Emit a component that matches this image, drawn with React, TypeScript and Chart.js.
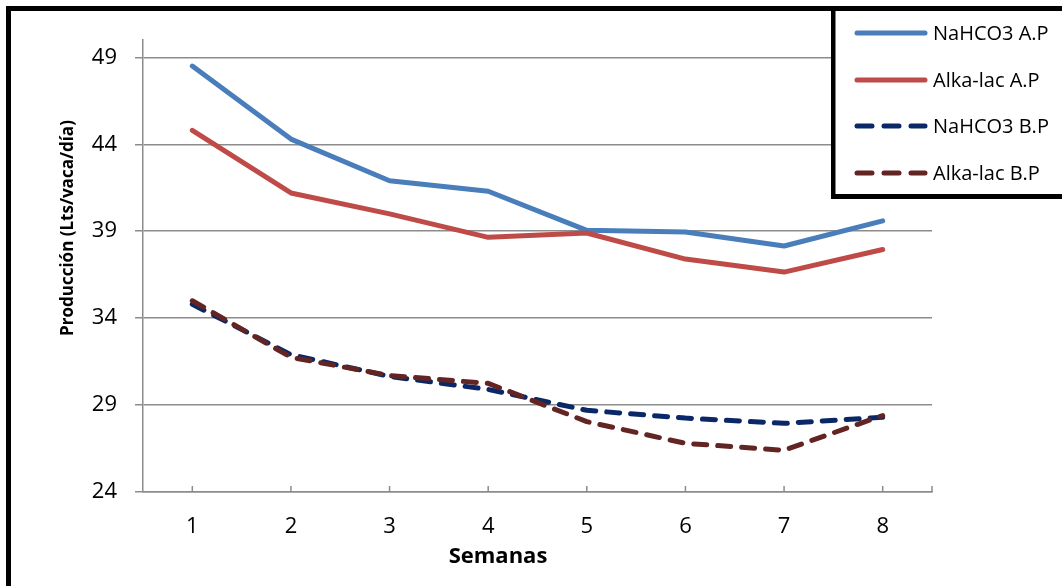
import React, { useEffect, useRef } from "react";
import { Chart, registerables } from "chart.js";

Chart.register(...registerables);

const weeks = ["1", "2", "3", "4", "5", "6", "7", "8"];
const nahco3AP = [48.5, 44.3, 41.9, 41.3, 39.05, 38.95, 38.15, 39.6];
const alkaAP = [44.8, 41.2, 40.0, 38.65, 38.9, 37.4, 36.65, 37.95];
const nahco3BP = [34.8, 31.9, 30.65, 29.9, 28.7, 28.25, 27.95, 28.3];
const alkaBP = [35.0, 31.75, 30.7, 30.25, 28.05, 26.8, 26.4, 28.4];
const yMin = 24;
const yMax = 50;
const yTickValues = [24, 29, 34, 39, 44, 49];
const seriesNames = ["NaHCO3 A.P", "Alka-lac A.P", "NaHCO3 B.P", "Alka-lac B.P"];
const yTitle = "Producción (Lts/vaca/día)";
const xTitle = "Semanas";

const FONT = "'Open Sans', 'Noto Sans', sans-serif";
const GRID = "#8c8c8c";

const decorPlugin = {
  id: "decor",
  afterDraw(chart: any) {
    const ctx = chart.ctx;
    const xs = chart.scales.x;
    const area = chart.chartArea;
    ctx.save();
    // inward tick marks on x axis
    ctx.strokeStyle = GRID;
    ctx.lineWidth = 1.5;
    const positions: number[] = weeks.map((_, i) => xs.getPixelForValue(i));
    positions.push(area.right);
    positions.forEach((px) => {
      ctx.beginPath();
      ctx.moveTo(px, area.bottom);
      ctx.lineTo(px, area.bottom - 6);
      ctx.stroke();
    });
    // axis titles
    ctx.fillStyle = "#000";
    ctx.textAlign = "center";
    ctx.textBaseline = "middle";
    ctx.font = `bold 22px ${FONT}`;
    ctx.fillText(xTitle, 498, 557);
    ctx.save();
    ctx.translate(68, 228);
    ctx.rotate(-Math.PI / 2);
    ctx.font = `bold 17px ${FONT}`;
    ctx.fillText(yTitle, 0, 0);
    ctx.restore();
    // outer frame
    ctx.fillStyle = "#000";
    ctx.fillRect(6, 6, 5, chart.height);
    ctx.fillRect(6, 6, chart.width, 5);
    // legend box
    ctx.fillStyle = "#fff";
    ctx.fillRect(833, 11, chart.width - 833, 186);
    ctx.fillStyle = "#000";
    ctx.fillRect(831, 6, 4.5, 193);
    ctx.fillRect(831, 194, chart.width - 831, 5);
    const rows = [33, 80, 126, 173];
    chart.data.datasets.forEach((ds: any, i: number) => {
      const y = rows[i];
      ctx.strokeStyle = ds.borderColor;
      ctx.lineWidth = 5;
      ctx.lineCap = "round";
      ctx.setLineDash(ds.borderDash && ds.borderDash.length ? [15, 12] : []);
      ctx.beginPath();
      ctx.moveTo(857, y);
      ctx.lineTo(925, y);
      ctx.stroke();
      ctx.setLineDash([]);
      ctx.fillStyle = "#000";
      ctx.font = `20px ${FONT}`;
      ctx.textAlign = "left";
      ctx.textBaseline = "middle";
      ctx.fillText(ds.label, 933, y + 1);
    });
    ctx.restore();
  },
};

export default function App() {
  const ref = useRef<HTMLCanvasElement>(null);
  useEffect(() => {
    if (!ref.current) return;
    const dashed = [13, 11];
    const chart = new Chart(ref.current, {
      type: "line",
      data: {
        labels: weeks,
        datasets: [
          { label: seriesNames[0], data: nahco3AP, borderColor: "#4A7EBB", borderWidth: 5, order: 3 },
          { label: seriesNames[1], data: alkaAP, borderColor: "#BE4B48", borderWidth: 5, order: 2 },
          { label: seriesNames[2], data: nahco3BP, borderColor: "#0A2868", borderWidth: 5, borderDash: dashed, order: 1 },
          { label: seriesNames[3], data: alkaBP, borderColor: "#632523", borderWidth: 5, borderDash: dashed, order: 0 },
        ].map((d) => ({
          ...d,
          pointRadius: 0,
          pointHoverRadius: 0,
          tension: 0,
          borderCapStyle: "round" as const,
          borderJoinStyle: "round" as const,
          fill: false,
        })),
      },
      options: {
        responsive: false,
        animation: false,
        layout: { padding: { left: 0, top: 40, right: 130, bottom: 0 } },
        plugins: { legend: { display: false }, tooltip: { enabled: false } },
        scales: {
          x: {
            offset: true,
            grid: { display: false, drawTicks: false },
            border: { display: true, color: GRID, width: 1.5 },
            ticks: { font: { family: FONT, size: 22 }, color: "#000", padding: 22 },
            afterFit: (s: any) => {
              s.height = 94;
            },
          },
          y: {
            min: yMin,
            max: yMax,
            grid: { color: GRID, lineWidth: 1.5, tickLength: 8, drawTicks: true },
            border: { display: true, color: GRID, width: 1.5 },
            ticks: { font: { family: FONT, size: 22 }, color: "#000", padding: 18 },
            afterBuildTicks: (s: any) => {
              s.ticks = yTickValues.map((v) => ({ value: v }));
            },
            afterFit: (s: any) => {
              s.width = 143;
            },
          },
        },
      },
      plugins: [decorPlugin],
    });
    return () => chart.destroy();
  }, []);
  return (
    <div style={{ position: "fixed", left: 0, top: 0, width: 1062, height: 586, background: "#fff" }}>
      <canvas ref={ref} width={1062} height={586} style={{ display: "block" }} />
    </div>
  );
}
